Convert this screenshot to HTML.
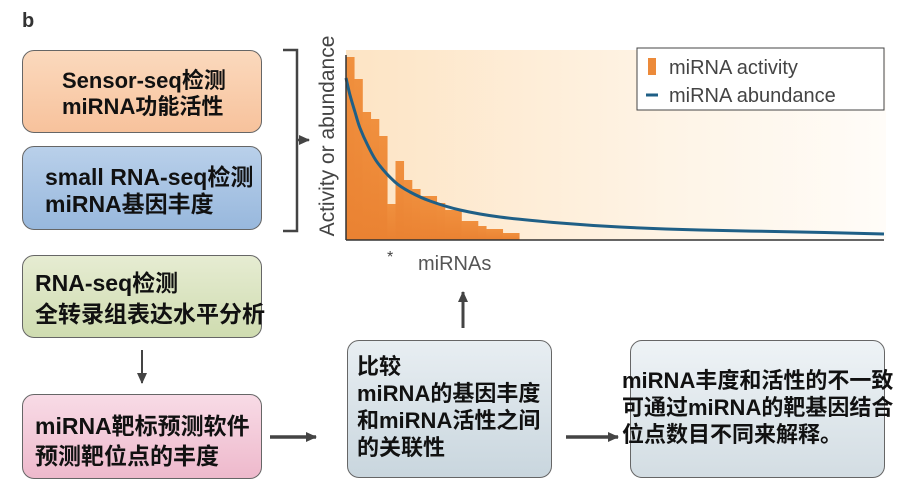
<!DOCTYPE html>
<html><head><meta charset="utf-8">
<style>
body{margin:0;width:900px;height:500px;background:#fff;position:relative;overflow:hidden;font-family:"Liberation Sans","Noto Sans CJK SC",sans-serif;}
.box{position:absolute;border:1.5px solid #666;border-radius:12px;box-sizing:border-box;font-weight:bold;color:#111;font-size:22px;line-height:26px;white-space:nowrap;}
.t{position:absolute;white-space:nowrap;}
</style></head><body>
<div class="t" style="left:22px;top:10px;font-size:20px;font-weight:bold;color:#333">b</div>

<div class="box" style="left:22px;top:50px;width:240px;height:83px;background:linear-gradient(#fbd9bd,#f7c29c);padding:17px 0 0 39px">Sensor-seq检测<br>miRNA功能活性</div>
<div class="box" style="left:22px;top:146px;width:240px;height:84px;background:linear-gradient(#b9d0ea,#98b8dd);padding:17px 0 0 22px;font-size:23px;line-height:27px">small RNA-seq检测<br>miRNA基因丰度</div>
<div class="box" style="left:22px;top:255px;width:240px;height:83px;background:linear-gradient(#e6ecd2,#cfdcb0);padding:12px 0 0 12px;font-size:23px;line-height:31px">RNA-seq检测<br>全转录组表达水平分析</div>
<div class="box" style="left:22px;top:394px;width:240px;height:85px;background:linear-gradient(#f8dbe6,#eeb9cc);padding:16px 0 0 12px;font-size:23px;line-height:30px">miRNA靶标预测软件<br>预测靶位点的丰度</div>
<div class="box" style="left:347px;top:340px;width:205px;height:138px;background:linear-gradient(#e8eef2,#c9d6de);padding:12px 0 0 9px;font-size:22px;line-height:27px">比较<br>miRNA的基因丰度<br>和miRNA活性之间<br>的关联性</div>
<div class="box" style="left:630px;top:340px;width:255px;height:138px;background:linear-gradient(#eef3f6,#d3dde3);padding:0;overflow:visible;line-height:27px;font-size:22px"><div style="position:absolute;left:-9px;top:26px;white-space:nowrap">miRNA丰度和活性的不一致<br>可通过miRNA的靶基因结合<br>位点数目不同来解释。</div></div>

<svg width="900" height="500" style="position:absolute;left:0;top:0">
<defs>
<linearGradient id="bg" x1="0" x2="1" y1="0" y2="0"><stop offset="0" stop-color="#fde4c4"/><stop offset="0.6" stop-color="#fef4e6"/><stop offset="1" stop-color="#fffcf8"/></linearGradient>
<linearGradient id="bar" x1="0" x2="0" y1="0" y2="1"><stop offset="0" stop-color="#f0903e"/><stop offset="1" stop-color="#ea8232"/></linearGradient>
<marker id="ah" markerUnits="userSpaceOnUse" markerWidth="12" markerHeight="12" refX="10" refY="6" orient="auto"><path d="M0,1 L11,6 L0,11 z" fill="#444"/></marker>
</defs>
<rect x="346" y="50" width="540" height="190" fill="url(#bg)"/>
<g id="bars"></g>
<path id="curve" fill="none" stroke="#1f5f86" stroke-width="3" stroke-linejoin="round"/>
<line x1="346" y1="55" x2="346" y2="240" stroke="#333" stroke-width="1.5"/>
<line x1="346" y1="240" x2="884" y2="240" stroke="#333" stroke-width="1.5"/>
<text x="334" y="136" transform="rotate(-90 334 136)" text-anchor="middle" font-size="21" fill="#444">Activity or abundance</text>
<text x="387" y="262" font-size="16" fill="#444">*</text>
<text x="418" y="270" font-size="20" fill="#555">miRNAs</text>
<g>
<rect x="637" y="48" width="247" height="62" fill="#fff" stroke="#444" stroke-width="1"/>
<rect x="648" y="58" width="8" height="17" fill="#ec8a3a"/>
<text x="669" y="74" font-size="20" fill="#444">miRNA activity</text>
<line x1="646" y1="95" x2="658" y2="95" stroke="#1f5f86" stroke-width="3"/>
<text x="669" y="102" font-size="20" fill="#444">miRNA abundance</text>
</g>
<path d="M283,50 H297 V231 H283" fill="none" stroke="#444" stroke-width="2.5"/>
<line x1="297" y1="140" x2="309" y2="140" stroke="#444" stroke-width="2.5" marker-end="url(#ah)"/>
<line x1="142" y1="350" x2="142" y2="383" stroke="#444" stroke-width="2" marker-end="url(#ah)"/>
<line x1="270" y1="437" x2="316" y2="437" stroke="#444" stroke-width="3.5" marker-end="url(#ah)"/>
<line x1="463" y1="328" x2="463" y2="292" stroke="#444" stroke-width="3" marker-end="url(#ah)"/>
<line x1="566" y1="437" x2="618" y2="437" stroke="#444" stroke-width="3.5" marker-end="url(#ah)"/>
</svg>
<script>
const activity=[183,161,128,121,104,36,79,60,51,44,44,37,30,30,19,19,14,11,11,7,7];
const abundanceX=[0,0.0074,0.0167,0.026,0.041,0.059,0.091,0.119,0.156,0.212,0.286,0.398,0.509,0.658,0.844,1];
const abundanceY=[162,145,128,112,94,77,58,48,39,30,23,17,13,10,8,6];
const x0=346,x1=884,y0=240,yMax=190,plotH=190,barW=8.25;
function sy(v){return y0-v/yMax*plotH;}
function sx(f){return x0+f*(x1-x0);}
const g=document.getElementById('bars');
activity.forEach((v,i)=>{
 const r=document.createElementNS('http://www.w3.org/2000/svg','rect');
 r.setAttribute('x',x0+i*barW);r.setAttribute('y',sy(v));
 r.setAttribute('width',barW+0.3);r.setAttribute('height',y0-sy(v));
 r.setAttribute('fill','url(#bar)');
 
 
 g.appendChild(r);
});
const pts=abundanceX.map((f,i)=>[sx(f),sy(abundanceY[i])]);
let d='M'+pts[0][0]+','+pts[0][1];
for(let i=1;i<pts.length;i++){
 const p0=pts[Math.max(0,i-2)],p1=pts[i-1],p2=pts[i],p3=pts[Math.min(pts.length-1,i+1)];
 const c1x=p1[0]+(p2[0]-p0[0])/6,c1y=p1[1]+(p2[1]-p0[1])/6;
 const c2x=p2[0]-(p3[0]-p1[0])/6,c2y=p2[1]-(p3[1]-p1[1])/6;
 d+=' C'+c1x+','+c1y+' '+c2x+','+c2y+' '+p2[0]+','+p2[1];
}
const c=document.getElementById('curve');
c.setAttribute('d',d);


</script>
</body></html>
